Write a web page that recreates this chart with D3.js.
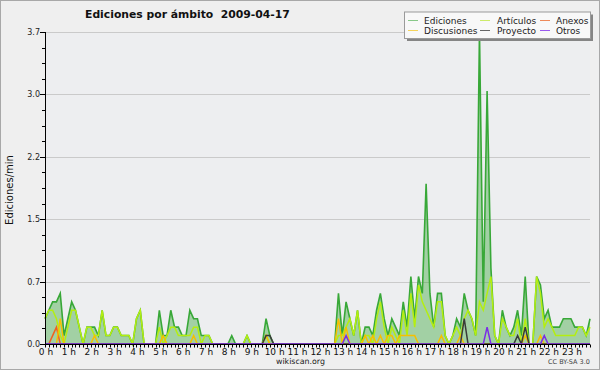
<!DOCTYPE html>
<html>
<head>
<meta charset="utf-8">
<script src="https://cdn.jsdelivr.net/npm/d3@7"></script>
<style>
  body { margin: 0; background: #efefef; }
  svg { display: block; }
  text { font-family: "DejaVu Sans", sans-serif; }
</style>
</head>
<body>
<svg id="chart" width="600" height="370"></svg>
<script>
// Edits per minute, one value per 10-minute slot (6 per hour, one row per hour)
const ediciones = [
  0.3, 0.4, 0.5, 0.5, 0.6, 0.1,
  0.3, 0.5, 0.4, 0.2, 0.0, 0.2,
  0.2, 0.2, 0.1, 0.4, 0.1, 0.1,
  0.2, 0.2, 0.1, 0.1, 0.1, 0.0,
  0.3, 0.4, 0.0, 0.0, 0.0, 0.0,
  0.4, 0.1, 0.1, 0.4, 0.2, 0.2,
  0.1, 0.1, 0.4, 0.3, 0.3, 0.1,
  0.1, 0.1, 0.0, 0.0, 0.0, 0.0,
  0.0, 0.1, 0.0, 0.0, 0.0, 0.1,
  0.0, 0.0, 0.0, 0.0, 0.3, 0.1,
  0.0, 0.0, 0.0, 0.0, 0.0, 0.0,
  0.0, 0.0, 0.0, 0.0, 0.0, 0.0,
  0.0, 0.0, 0.0, 0.0, 0.0, 0.6,
  0.1, 0.5, 0.3, 0.1, 0.4, 0.0,
  0.2, 0.2, 0.1, 0.4, 0.6, 0.3,
  0.1, 0.3, 0.2, 0.1, 0.5, 0.2,
  0.8, 0.3, 0.8, 0.6, 1.9, 0.6,
  0.2, 0.6, 0.6, 0.1, 0.0, 0.1,
  0.3, 0.2, 0.6, 0.4, 0.3, 0.1,
  3.7, 0.5, 3.0, 0.9, 0.1, 0.0,
  0.4, 0.2, 0.1, 0.2, 0.4, 0.1,
  0.8, 0.0, 0.0, 0.8, 0.7, 0.3,
  0.4, 0.2, 0.2, 0.2, 0.3, 0.3,
  0.3, 0.2, 0.2, 0.2, 0.1, 0.3
];
const articulos = [
  0.3, 0.4, 0.4, 0.3, 0.1, 0.0,
  0.2, 0.4, 0.4, 0.2, 0.0, 0.2,
  0.2, 0.1, 0.1, 0.4, 0.1, 0.1,
  0.2, 0.2, 0.1, 0.1, 0.1, 0.0,
  0.3, 0.4, 0.0, 0.0, 0.0, 0.0,
  0.2, 0.0, 0.1, 0.2, 0.2, 0.1,
  0.1, 0.1, 0.1, 0.2, 0.2, 0.0,
  0.1, 0.1, 0.0, 0.0, 0.0, 0.0,
  0.0, 0.0, 0.0, 0.0, 0.0, 0.1,
  0.0, 0.0, 0.0, 0.0, 0.1, 0.0,
  0.0, 0.0, 0.0, 0.0, 0.0, 0.0,
  0.0, 0.0, 0.0, 0.0, 0.0, 0.0,
  0.0, 0.0, 0.0, 0.0, 0.0, 0.1,
  0.1, 0.2, 0.3, 0.1, 0.4, 0.0,
  0.1, 0.1, 0.0, 0.3, 0.5, 0.2,
  0.0, 0.2, 0.1, 0.0, 0.4, 0.1,
  0.6, 0.2, 0.7, 0.5, 0.4, 0.3,
  0.2, 0.5, 0.5, 0.1, 0.0, 0.1,
  0.2, 0.1, 0.3, 0.4, 0.3, 0.1,
  0.5, 0.4, 0.6, 0.8, 0.1, 0.0,
  0.3, 0.2, 0.1, 0.1, 0.3, 0.0,
  0.3, 0.0, 0.0, 0.8, 0.6, 0.2,
  0.3, 0.2, 0.1, 0.1, 0.1, 0.1,
  0.1, 0.1, 0.2, 0.2, 0.1, 0.2
];
const anexos = [
  0, 0, 0.1, 0.2, 0, 0,
  0, 0, 0, 0, 0, 0,
  0, 0, 0, 0, 0, 0,
  0, 0, 0, 0, 0, 0,
  0, 0, 0, 0, 0, 0,
  0, 0, 0, 0, 0, 0,
  0, 0, 0, 0, 0, 0,
  0, 0, 0, 0, 0, 0,
  0, 0, 0, 0, 0, 0,
  0, 0, 0, 0, 0, 0,
  0, 0, 0, 0, 0, 0,
  0, 0, 0, 0, 0, 0,
  0, 0, 0, 0, 0, 0,
  0, 0, 0, 0, 0, 0,
  0, 0, 0, 0, 0, 0,
  0, 0, 0, 0, 0, 0,
  0, 0, 0, 0, 0, 0,
  0, 0, 0, 0, 0, 0,
  0, 0, 0, 0, 0, 0,
  0, 0, 0, 0, 0, 0,
  0, 0, 0, 0, 0, 0,
  0, 0, 0, 0, 0, 0,
  0, 0, 0, 0, 0, 0,
  0, 0, 0, 0, 0, 0
];
const discusiones = [
  0, 0, 0, 0, 0.3, 0,
  0, 0, 0, 0, 0, 0,
  0, 0.1, 0, 0, 0, 0,
  0, 0, 0, 0, 0, 0,
  0, 0, 0, 0, 0, 0,
  0, 0.1, 0, 0, 0, 0,
  0, 0, 0, 0.1, 0, 0,
  0, 0, 0, 0, 0, 0,
  0, 0, 0, 0, 0, 0,
  0, 0, 0, 0, 0.1, 0,
  0, 0, 0, 0, 0, 0,
  0, 0, 0, 0, 0, 0,
  0, 0, 0, 0, 0, 0.3,
  0, 0.2, 0, 0, 0, 0,
  0.1, 0, 0.1, 0, 0.1, 0,
  0.1, 0.1, 0, 0.1, 0.1, 0.1,
  0.1, 0.1, 0, 0, 0, 0,
  0, 0, 0.1, 0, 0, 0,
  0, 0.1, 0, 0, 0, 0,
  0, 0, 0, 0, 0, 0,
  0, 0, 0, 0, 0, 0,
  0.1, 0, 0, 0, 0.1, 0,
  0, 0, 0, 0, 0, 0,
  0, 0, 0, 0, 0, 0
];
const proyecto = [
  0, 0, 0, 0, 0, 0,
  0, 0, 0, 0, 0, 0,
  0, 0, 0, 0, 0, 0,
  0, 0, 0, 0, 0, 0,
  0, 0, 0, 0, 0, 0,
  0, 0, 0, 0, 0, 0,
  0, 0, 0, 0, 0, 0,
  0, 0, 0, 0, 0, 0,
  0, 0, 0, 0, 0, 0,
  0, 0, 0, 0, 0.1, 0.1,
  0, 0, 0, 0, 0, 0,
  0, 0, 0, 0, 0, 0,
  0, 0, 0, 0, 0, 0,
  0, 0, 0, 0, 0, 0,
  0, 0, 0, 0, 0, 0,
  0, 0, 0, 0, 0, 0,
  0, 0, 0, 0, 0, 0,
  0, 0, 0, 0, 0, 0,
  0, 0, 0.3, 0, 0, 0,
  0, 0, 0, 0, 0, 0,
  0, 0, 0, 0, 0.1, 0,
  0.2, 0, 0, 0, 0, 0,
  0, 0, 0, 0, 0, 0,
  0, 0, 0, 0, 0, 0
];
const otros = [
  0, 0, 0, 0, 0, 0,
  0, 0, 0, 0, 0, 0,
  0, 0, 0, 0, 0, 0,
  0, 0, 0, 0, 0, 0,
  0, 0, 0, 0, 0, 0,
  0, 0, 0, 0, 0, 0,
  0, 0, 0, 0, 0, 0,
  0, 0, 0, 0, 0, 0,
  0, 0, 0, 0, 0, 0,
  0, 0, 0, 0, 0, 0,
  0, 0, 0, 0, 0, 0,
  0, 0, 0, 0, 0, 0,
  0, 0, 0, 0, 0, 0,
  0, 0.1, 0, 0, 0, 0,
  0, 0, 0, 0, 0, 0,
  0, 0, 0, 0, 0, 0,
  0, 0, 0, 0, 0, 0,
  0, 0, 0, 0, 0, 0,
  0, 0, 0, 0, 0, 0,
  0, 0, 0.2, 0, 0, 0,
  0, 0, 0, 0, 0, 0,
  0, 0, 0, 0, 0, 0.1,
  0, 0, 0, 0, 0, 0,
  0, 0, 0, 0, 0, 0
];

const hourLabels = ["0 h", "1 h", "2 h", "3 h", "4 h", "5 h", "6 h", "7 h", "8 h", "9 h", "10 h", "11 h",
  "12 h", "13 h", "14 h", "15 h", "16 h", "17 h", "18 h", "19 h", "20 h", "21 h", "22 h", "23 h"];
const yTickValues = [0, 0.74, 1.48, 2.22, 2.96, 3.7];
const yTickLabels = ["0.0", "0.7", "1.5", "2.2", "3.0", "3.7"];
const yMax = 3.7;

const series = [
  { name: "Ediciones", values: ediciones, color: "#38a838", legend: "#88c888", width: 1.6 },
  { name: "Artículos", values: articulos, color: "#b4ee10", legend: "#cdeb6a", width: 1.5 },
  { name: "Anexos", values: anexos, color: "#f06020", legend: "#ee8a5a", width: 1.5 },
  { name: "Discusiones", values: discusiones, color: "#f5c000", legend: "#f5d35a", width: 1.5 },
  { name: "Proyecto", values: proyecto, color: "#3a3a3a", legend: "#666666", width: 1.5 },
  { name: "Otros", values: otros, color: "#7a2ee6", legend: "#9a5aee", width: 1.5 }
];
// legend is laid out column-wise: 3 columns, 2 rows
const legendOrder = ["Ediciones", "Artículos", "Anexos", "Discusiones", "Proyecto", "Otros"];

const margin = { left: 45, right: 10, top: 32, bottom: 26 };
const W = 600, H = 370;

const svg = d3.select('#chart');

// frame
svg.append('rect')
  .attr('x', 0.5).attr('y', 0.5)
  .attr('width', W - 1).attr('height', H - 1)
  .attr('fill', '#efefef')
  .attr('stroke', '#a8a8a8');

const x = d3.scaleLinear()
  .domain([0, ediciones.length - 1])
  .range([margin.left, W - margin.right]);

const y = d3.scaleLinear()
  .domain([0, yMax])
  .range([H - margin.bottom, margin.top]);

svg.append('rect')
  .attr('x', x.range()[0]).attr('y', y(yMax))
  .attr('width', x.range()[1] - x.range()[0])
  .attr('height', y(0) - y(yMax))
  .attr('fill', '#edeef0');

// grid
svg.append('g')
  .selectAll('line')
  .data(yTickValues.filter((v) => v > 0))
  .join('line')
  .attr('x1', x.range()[0]).attr('x2', x.range()[1])
  .attr('y1', (d) => Math.round(y(d)) + 0.5)
  .attr('y2', (d) => Math.round(y(d)) + 0.5)
  .attr('stroke', '#cacaca');

// area under total edits
const area = d3.area()
  .x((d, i) => x(i))
  .y0(y(0))
  .y1((d) => y(d));

svg.append('path')
  .datum(ediciones)
  .attr('d', area)
  .attr('fill', 'rgba(40,160,40,0.38)');

const line = d3.line()
  .x((d, i) => x(i))
  .y((d) => y(d));

svg.append('g')
  .selectAll('path')
  .data(series)
  .join('path')
  .attr('d', (s) => line(s.values))
  .attr('fill', 'none')
  .attr('stroke', (s) => s.color)
  .attr('stroke-width', (s) => s.width)
  .attr('stroke-linejoin', 'miter');

// y axis
const yAxis = svg.append('g')
  .attr('transform', `translate(${x.range()[0]},0)`);

yAxis.append('line')
  .attr('x1', 0.5).attr('x2', 0.5)
  .attr('y1', y(yMax)).attr('y2', y(0))
  .attr('stroke', '#000');

const step = yTickValues[1] - yTickValues[0];
const minorTicks = [];
yTickValues.slice(0, -1).forEach((v) => {
  for (let k = 1; k < 4; k++) minorTicks.push(v + step * k / 4);
});

yAxis.selectAll('.minor')
  .data(minorTicks)
  .join('line')
  .attr('class', 'minor')
  .attr('x1', -3).attr('x2', 0)
  .attr('y1', (d) => Math.round(y(d)) + 0.5)
  .attr('y2', (d) => Math.round(y(d)) + 0.5)
  .attr('stroke', '#000');

yAxis.selectAll('.major')
  .data(yTickValues)
  .join('line')
  .attr('class', 'major')
  .attr('x1', -5).attr('x2', 0)
  .attr('y1', (d) => Math.round(y(d)) + 0.5)
  .attr('y2', (d) => Math.round(y(d)) + 0.5)
  .attr('stroke', '#000');

yAxis.selectAll('text')
  .data(yTickValues)
  .join('text')
  .attr('x', -5)
  .attr('y', (d) => y(d) + 3)
  .attr('text-anchor', 'end')
  .attr('font-size', 8)
  .attr('fill', '#222')
  .text((d, i) => yTickLabels[i]);

// x axis
const xAxis = svg.append('g')
  .attr('transform', `translate(0,${Math.round(y(0)) + 0.5})`);

xAxis.append('line')
  .attr('x1', x.range()[0]).attr('x2', x.range()[1])
  .attr('stroke', '#000');

xAxis.selectAll('.tick')
  .data(d3.range(ediciones.length))
  .join('line')
  .attr('class', 'tick')
  .attr('x1', (d) => Math.round(x(d)) + 0.5)
  .attr('x2', (d) => Math.round(x(d)) + 0.5)
  .attr('y1', 0).attr('y2', 3)
  .attr('stroke', '#000');

xAxis.selectAll('text')
  .data(hourLabels)
  .join('text')
  .attr('x', (d, i) => x(i * 6) + 1)
  .attr('y', 10)
  .attr('text-anchor', 'middle')
  .attr('font-size', 9)
  .attr('fill', '#111')
  .text((d) => d);

// texts
function fitWidth(sel, w) {
  const len = sel.node().getComputedTextLength();
  const fs = parseFloat(sel.attr('font-size'));
  sel.attr('font-size', fs * w / len);
}

const title = svg.append('text')
  .attr('x', 85).attr('y', 18)
  .attr('font-size', 12)
  .attr('font-weight', 'bold')
  .attr('fill', '#111')
  .attr('xml:space', 'preserve')
  .text('Ediciones por ámbito  2009-04-17');
fitWidth(title, 205);

svg.append('text')
  .attr('transform', `translate(13,${(y(0) + y(yMax)) / 2 + 2}) rotate(-90)`)
  .attr('text-anchor', 'middle')
  .attr('font-family', '"DejaVu Sans Mono", monospace')
  .attr('font-size', 10)
  .attr('fill', '#111')
  .text('Ediciones/min');

const site = svg.append('text')
  .attr('x', 276).attr('y', 364)
  .attr('font-size', 9)
  .attr('fill', '#222')
  .text('wikiscan.org');
fitWidth(site, 49);

const lic = svg.append('text')
  .attr('x', 548).attr('y', 364)
  .attr('font-size', 7)
  .attr('fill', '#444')
  .text('CC BY-SA 3.0');
fitWidth(lic, 42);

// legend
const lg = { x: 404, y: 11.5, w: 186, h: 26.5 };
const legend = svg.append('g');
legend.append('rect')
  .attr('x', lg.x + 3).attr('y', lg.y + 3)
  .attr('width', lg.w).attr('height', lg.h)
  .attr('fill', '#858585');
legend.append('rect')
  .attr('x', lg.x + 0.5).attr('y', lg.y + 0.5)
  .attr('width', lg.w).attr('height', lg.h)
  .attr('fill', '#f8f8f8')
  .attr('stroke', '#9a9a9a');

const colX = [408, 480, 540];
const rowY = [20, 30];
const items = legend.selectAll('g.item')
  .data(legendOrder.map((n) => series.find((s) => s.name === n)))
  .join('g')
  .attr('class', 'item')
  .attr('transform', (d, i) => `translate(${colX[i % 3]},${rowY[Math.floor(i / 3)]})`);

items.append('line')
  .attr('x1', 0).attr('x2', 10)
  .attr('y1', 0.5).attr('y2', 0.5)
  .attr('stroke', (d) => d.legend);

items.append('text')
  .attr('x', (d, i) => (i % 3 === 1 ? 17 : 16))
  .attr('y', 3.5)
  .attr('font-size', 9)
  .attr('fill', '#222')
  .text((d) => d.name);
</script>
</body>
</html>
